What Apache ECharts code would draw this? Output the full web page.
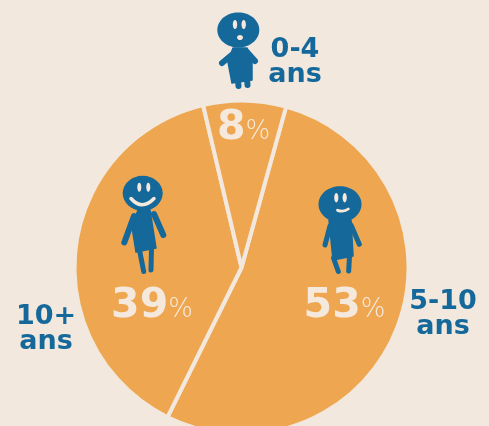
<!DOCTYPE html>
<html><head><meta charset="utf-8">
<style>html,body{margin:0;padding:0;background:#f2e8de}#c{width:489px;height:426px}</style>
<script src="https://cdn.jsdelivr.net/npm/echarts@6/dist/echarts.min.js"></script>
</head><body><div id="c"></div>
<script>
const categories = ['5-10 ans', '10+ ans', '0-4 ans'];
const values = [53, 39, 8];
const BLUE = '#14689a', ORANGE = '#eea750', BG = '#f2e8de', CREAM = '#f5e9de';
const FONT = '"DejaVu Sans", sans-serif';
const labelAnchors = [[344.5, 306], [152, 306], [243.5, 128]];
const catPos = [[443, 314], [46, 329], [295, 62]];

const head = (cx, cy, rx, ry) => ({type:'ellipse', z:100, shape:{cx, cy, rx, ry}, style:{fill:BLUE}});
const eye = (cx, cy, rx, ry) => ({type:'ellipse', z:101, shape:{cx, cy, rx, ry}, style:{fill:CREAM}});
const body = pts => ({type:'polygon', z:100, shape:{points:pts}, style:{fill:BLUE, stroke:BLUE, lineWidth:1.5, lineJoin:'round'}});
const limb = (x1, y1, x2, y2, w) => ({type:'line', z:100, shape:{x1, y1, x2, y2}, style:{stroke:BLUE, lineWidth:w, lineCap:'round'}});
const smile = (x1, y1, cpx1, cpy1, x2, y2, w) => ({type:'bezierCurve', z:101, shape:{x1, y1, x2, y2, cpx1, cpy1}, style:{stroke:CREAM, fill:null, lineWidth:w, lineCap:'round'}});

const figures = [
  // 0-4
  body([[233,48],[247,48],[252,60],[252,80],[232,83],[228,62]]),
  limb(234,53,222,63,6), limb(247,52,255,61,6),
  limb(238,80,238.5,86,6), limb(247,79,247.5,85,6),
  head(238.3,30,21,17.5),
  eye(235,24.5,2.2,4.6), eye(243.7,24.5,2.2,4.6), eye(240,37.5,3,2.6),
  // 10+
  body([[138,210],[150,210],[156,248],[136,252],[132,227]]),
  limb(134,216,124.3,242.5,6), limb(154,214,163.3,235,6),
  limb(139.5,250,143.7,271.5,5), limb(151.5,248,151,270,5),
  head(142.7,193.3,20,17.5),
  eye(139.3,187.3,2,4.5), eye(148.3,187.3,2,4.5),
  smile(131,198.5,142,211,154,198.5,3.5),
  // 5-10
  body([[329,220],[351,220],[353,256],[333,260]]),
  limb(330,226,325,245,5), limb(351,225,359.3,244.3,5),
  limb(333.5,258,338.3,271.5,5), limb(349.5,256,348.7,271,5),
  head(340,204.3,21.5,18),
  eye(336.3,197.7,2.1,4.7), eye(344.7,197.7,2.1,4.7),
  smile(337.5,210.3,344,212.5,348.3,209,2.8)
];

const catTexts = categories.map((c, i) => ({
  type:'text', z:100, x:catPos[i][0], y:catPos[i][1],
  style:{text:c.replace(' ', '\n'), fill:BLUE, font:'bold 27px ' + FONT, align:'center', verticalAlign:'middle', lineHeight:25}
}));

const chart = echarts.init(document.getElementById('c'), null, {renderer:'canvas'});
chart.setOption({
  backgroundColor: BG,
  animation:false,
  series:[{
    type:'pie',
    center:[241.5,267.5],
    radius:[0,167],
    startAngle:74.5,
    clockwise:true,
    silent:true,
    itemStyle:{color:ORANGE, borderColor:BG, borderWidth:4},
    label:{
      show:true, position:'inside',
      formatter:p => `{n|${p.value}}{p|%}`,
      rich:{
        n:{fontFamily:FONT, fontWeight:'bold', fontSize:41, color:CREAM, verticalAlign:'bottom'},
        p:{fontFamily:'"DejaVu Sans ExtraLight","DejaVu Sans"', fontWeight:200, fontSize:26, color:CREAM, verticalAlign:'bottom', padding:[0,0,3,0]}
      }
    },
    labelLine:{show:false},
    labelLayout:p => ({x:labelAnchors[p.dataIndex][0], y:labelAnchors[p.dataIndex][1], align:'center', verticalAlign:'middle'}),
    data:categories.map((c,i)=>({name:c, value:values[i]}))
  }],
  graphic:[...figures, ...catTexts]
});
</script></body></html>
